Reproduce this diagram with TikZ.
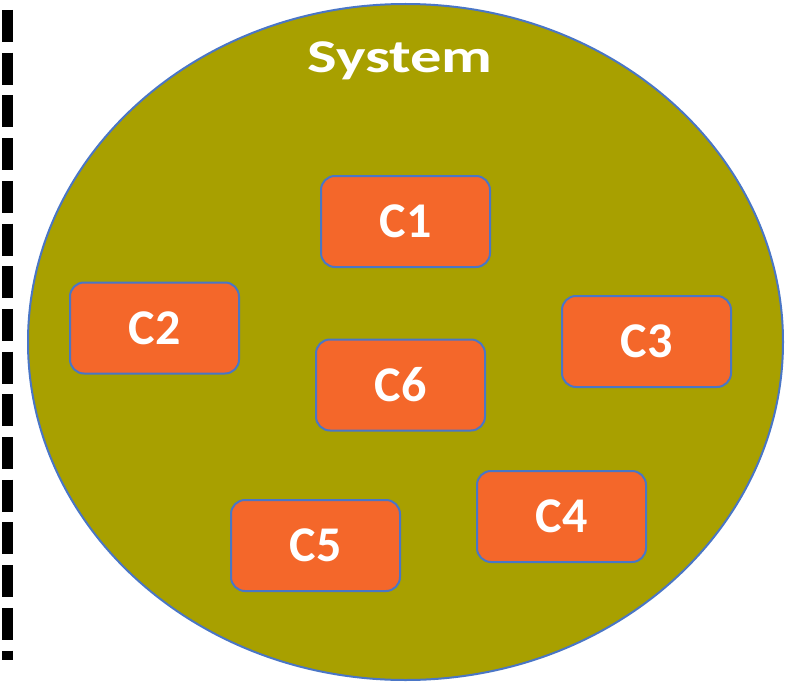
\documentclass[tikz,border=0pt]{standalone}
\usepackage{fontspec}
\setmainfont{Carlito}
\usepackage{xcolor}
\definecolor{olive}{HTML}{A8A000}
\definecolor{comporange}{HTML}{F4672A}
\definecolor{edgeblue}{HTML}{4A76C6}
\usepackage{tikz}
\tikzset{
  comp/.style={draw=edgeblue, line width=2pt, fill=comporange, rounded corners=14pt,
    minimum width=169pt, minimum height=91pt, inner sep=0pt,
    text=white, font=\fontsize{50}{50}\selectfont\bfseries},
}

\begin{document}
\begin{tikzpicture}[x=1pt, y=-1pt]
\useasboundingbox (0,0) rectangle (795,682);
% boundary line on the left
\draw[line width=11pt, dash pattern=on 32pt off 10.7pt] (7.5,10) -- (7.5,660);
% the system
\draw[edgeblue, line width=2pt, fill=olive] (405.5,342) ellipse (377.5 and 338);
\node[anchor=base, text=white, font=\fontsize{47}{47}\selectfont\bfseries] (sys) at (400,73) {\scalebox{1.33}[1]{System}};
% components
\foreach \x/\y/\n in {
405.5/221.5/C1, 154.5/328/C2, 646.5/341.5/C3,
561.5/516.5/C4, 315.5/545.5/C5, 400.5/385/C6
}{
\node[comp] (\n) at (\x,\y) {\n};
}
\end{tikzpicture}
\end{document}
